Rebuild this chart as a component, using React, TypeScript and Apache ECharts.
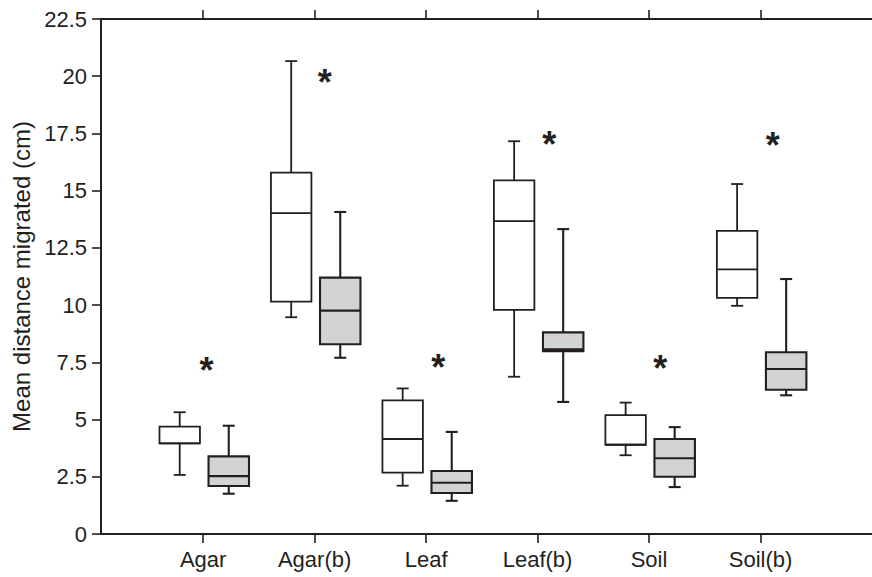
import React, { useEffect, useRef } from 'react';
import * as echarts from 'echarts';

// ---- data ----
const categories = ['Agar', 'Agar(b)', 'Leaf', 'Leaf(b)', 'Soil', 'Soil(b)'];
const categoryTicks = [1, 2, 3, 4, 5, 6];

// [low whisker, Q1, median, Q3, high whisker]
const plainLow = [2.58, 9.47, 2.11, 6.87, 3.44, 9.97];
const plainQ1 = [3.96, 10.15, 2.68, 9.79, 3.9, 10.32];
const plainMedian = [3.96, 14.02, 4.15, 13.67, 3.9, 11.56];
const plainQ3 = [4.69, 15.79, 5.84, 15.45, 5.19, 13.24];
const plainHigh = [5.32, 20.66, 6.36, 17.16, 5.74, 15.29];

const shadedLow = [1.76, 7.7, 1.45, 5.77, 2.05, 6.06];
const shadedQ1 = [2.1, 8.29, 1.79, 7.99, 2.5, 6.3];
const shadedMedian = [2.53, 9.76, 2.24, 8.07, 3.31, 7.21];
const shadedQ3 = [3.39, 11.2, 2.75, 8.81, 4.15, 7.94];
const shadedHigh = [4.73, 14.07, 4.46, 13.32, 4.67, 11.14];

const asteriskY = [7.31, 19.9, 7.43, 17.18, 7.38, 17.11];
const asteriskShift = [0.03, 0.09, 0.11, 0.105, 0.1, 0.11];

// ---- styling ----
const INK = '#231f20';
const SHADE = '#d1d3d4';
const FONT = '"Liberation Sans", Arial, Helvetica, sans-serif';
const PLAIN_OFFSET = -0.21;
const SHADED_OFFSET = 0.23;
const BOX_W = 0.363;
const CAP_HALF = 6;
const STAR_SIZE = 36;

function makeRender(fill: string, lw: number) {
  return (params: any, api: any) => {
    const x = api.value(0);
    const ys = [1, 2, 3, 4, 5].map((k) => api.coord([x, api.value(k)])[1]);
    const cx = api.coord([x, 0])[0];
    const half = api.size([BOX_W, 0])[0] / 2;
    const [low, q1, med, q3, high] = ys;
    const ls = { stroke: INK, lineWidth: lw };
    return {
      type: 'group',
      children: [
        { type: 'line', shape: { x1: cx, y1: high, x2: cx, y2: q3 }, style: ls },
        { type: 'line', shape: { x1: cx, y1: q1, x2: cx, y2: low }, style: ls },
        { type: 'line', shape: { x1: cx - CAP_HALF, y1: high, x2: cx + CAP_HALF, y2: high }, style: ls },
        { type: 'line', shape: { x1: cx - CAP_HALF, y1: low, x2: cx + CAP_HALF, y2: low }, style: ls },
        {
          type: 'rect',
          shape: { x: cx - half, y: q3, width: 2 * half, height: q1 - q3 },
          style: { fill, stroke: INK, lineWidth: lw },
        },
        { type: 'line', shape: { x1: cx - half, y1: med, x2: cx + half, y2: med }, style: ls },
      ],
    };
  };
}

function labelFor(v: number) {
  const r = Math.round(v);
  if (Math.abs(v - r) < 1e-6 && r >= 1 && r <= categories.length) return categories[r - 1];
  return '';
}

export default function App() {
  const ref = useRef<HTMLDivElement>(null);

  useEffect(() => {
    if (!ref.current) return;
    const chart = echarts.init(ref.current, undefined, { renderer: 'svg' });

    const plainData = categories.map((_, i) => [
      categoryTicks[i] + PLAIN_OFFSET,
      plainLow[i],
      plainQ1[i],
      plainMedian[i],
      plainQ3[i],
      plainHigh[i],
    ]);
    const shadedData = categories.map((_, i) => [
      categoryTicks[i] + SHADED_OFFSET,
      shadedLow[i],
      shadedQ1[i],
      shadedMedian[i],
      shadedQ3[i],
      shadedHigh[i],
    ]);
    const starData = categories.map((_, i) => [categoryTicks[i] + asteriskShift[i], asteriskY[i]]);

    const baseX = {
      type: 'value',
      min: 0.084,
      max: 7,
      minInterval: 1,
      maxInterval: 1,
      splitLine: { show: false },
      axisLine: { show: true, onZero: false, lineStyle: { color: INK, width: 2 } },
      axisTick: {
        show: true,
        customValues: categoryTicks,
        length: 9,
        lineStyle: { color: INK, width: 1.6 },
      },
    };

    chart.setOption({
      animation: false,
      backgroundColor: '#ffffff',
      grid: { left: 101, right: 0, top: 19, bottom: 43, containLabel: false },
      xAxis: [
        {
          ...baseX,
          position: 'bottom',
          axisLabel: {
            show: true,
            customValues: categoryTicks,
            formatter: labelFor,
            color: INK,
            fontFamily: FONT,
            fontSize: 22,
            margin: 14,
          },
        },
        {
          ...baseX,
          position: 'top',
          axisLabel: { show: false },
        },
      ],
      yAxis: {
        type: 'value',
        min: 0,
        max: 22.5,
        interval: 2.5,
        name: 'Mean distance migrated (cm)',
        nameLocation: 'middle',
        nameGap: 64,
        nameTextStyle: { color: INK, fontFamily: FONT, fontSize: 24 },
        splitLine: { show: false },
        axisLine: { show: true, onZero: false, lineStyle: { color: INK, width: 2 } },
        axisTick: { show: true, length: 9, lineStyle: { color: INK, width: 1.6 } },
        axisLabel: { color: INK, fontFamily: FONT, fontSize: 22, margin: 14 },
      },
      series: [
        {
          type: 'custom',
          name: 'plain',
          renderItem: makeRender('#ffffff', 1.8),
          encode: { x: 0, y: [1, 2, 3, 4, 5] },
          data: plainData,
          z: 3,
        },
        {
          type: 'custom',
          name: 'shaded',
          renderItem: makeRender(SHADE, 2.1),
          encode: { x: 0, y: [1, 2, 3, 4, 5] },
          data: shadedData,
          z: 3,
        },
        {
          type: 'custom',
          name: 'asterisk',
          renderItem: (params: any, api: any) => {
            const p = api.coord([api.value(0), api.value(1)]);
            return {
              type: 'text',
              x: p[0],
              y: p[1] + STAR_SIZE * 0.1,
              style: {
                text: '*',
                fill: INK,
                font: `bold ${STAR_SIZE}px ${FONT}`,
                align: 'center',
                verticalAlign: 'middle',
              },
            };
          },
          encode: { x: 0, y: 1 },
          data: starData,
          z: 4,
        },
      ],
    });

    return () => chart.dispose();
  }, []);

  return (
    <div
      ref={ref}
      style={{ position: 'fixed', left: 0, top: 0, width: 872, height: 577, background: '#fff' }}
    />
  );
}
